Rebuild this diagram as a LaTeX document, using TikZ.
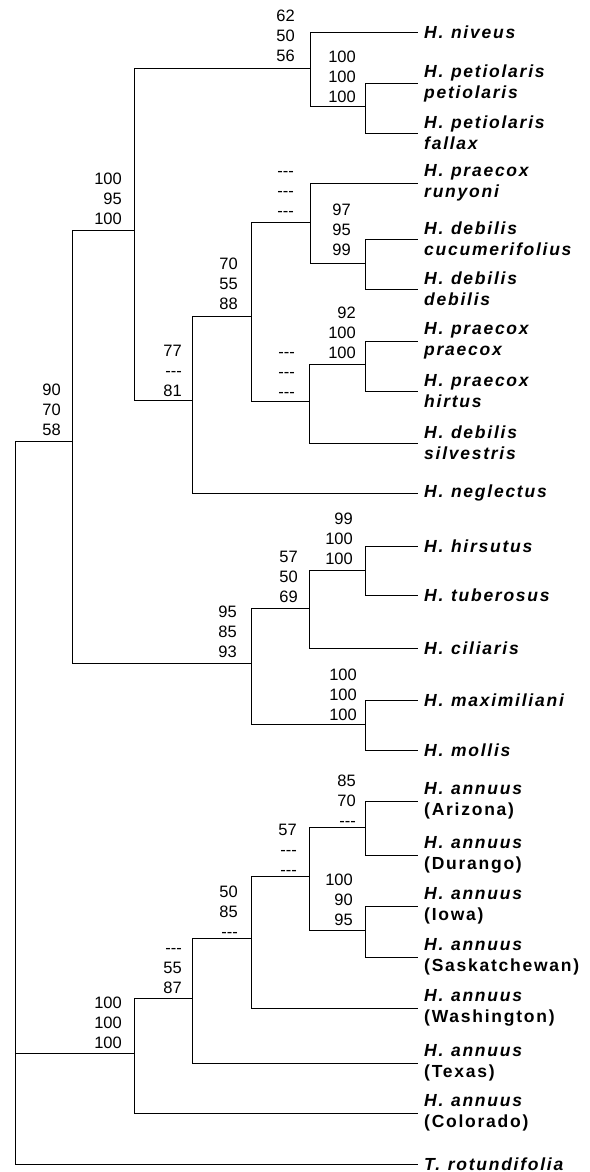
\documentclass[tikz,border=0pt]{standalone}
\usepackage{fontspec}
\setmainfont{Liberation Sans}
\newfontfamily\tipfont{Liberation Sans}[LetterSpace=10.0,WordSpace=1.15]
\newcommand{\dd}{\hbox{-}\hbox{-}\hbox{-}}
\newcommand{\bsv}[3]{#1\vphantom{0}\\#2\vphantom{0}\\#3\vphantom{0}}
\tikzset{
  br/.style={line width=0.9pt, black},
  supp/.style={anchor=east, align=right, inner sep=0pt, font=\fontsize{16.5}{20}\selectfont},
  tip/.style={anchor=west, align=left, inner xsep=6pt, inner ysep=0pt, font=\tipfont\fontsize{17.5}{21}\selectfont\bfseries\itshape},
}
\begin{document}
\begin{tikzpicture}[x=1pt,y=-1pt]
\useasboundingbox (0,0) rectangle (589,1172);
% tips
\node[tip] (niveus) at (418,32) {H. niveus};
\node[tip] (petpet) at (418,83) {H. petiolaris\\petiolaris};
\node[tip] (petfal) at (418,133) {H. petiolaris\\fallax};
\node[tip] (runy) at (418,183) {H. praecox\\runyoni};
\node[tip] (cucu) at (418,239) {H. debilis\\cucumerifolius};
\node[tip] (debdeb) at (418,289) {H. debilis\\debilis};
\node[tip] (prpr) at (418,341) {H. praecox\\praecox};
\node[tip] (prhi) at (418,391) {H. praecox\\hirtus};
\node[tip] (silv) at (418,443) {H. debilis\\silvestris};
\node[tip] (negl) at (418,493) {H. neglectus};
\node[tip] (hirs) at (418,546) {H. hirsutus};
\node[tip] (tube) at (418,595) {H. tuberosus};
\node[tip] (cili) at (418,648) {H. ciliaris};
\node[tip] (maxi) at (418,700) {H. maximiliani};
\node[tip] (moll) at (418,750) {H. mollis};
\node[tip] (ariz) at (418,801) {H. annuus\\{\upshape (Arizona)}};
\node[tip] (dura) at (418,855) {H. annuus\\{\upshape (Durango)}};
\node[tip] (iowa) at (418,906) {H. annuus\\{\upshape (Iowa)}};
\node[tip] (sask) at (418,957) {H. annuus\\{\upshape (Saskatchewan)}};
\node[tip] (wash) at (418,1008) {H. annuus\\{\upshape (Washington)}};
\node[tip] (texa) at (418,1063) {H. annuus\\{\upshape (Texas)}};
\node[tip] (colo) at (418,1113) {H. annuus\\{\upshape (Colorado)}};
\node[tip] (roti) at (418,1164) {T. rotundifolia};
% internal nodes
\coordinate (A) at (365,106);
\coordinate (B) at (310,68);
\coordinate (C) at (365,263);
\coordinate (D) at (310,222);
\coordinate (E) at (365,364);
\coordinate (F) at (309,401);
\coordinate (G) at (251,316);
\coordinate (H) at (192,400);
\coordinate (I) at (134,230);
\coordinate (J) at (365,570);
\coordinate (K) at (309,608);
\coordinate (L) at (365,724);
\coordinate (M) at (251,663);
\coordinate (N) at (72,441);
\coordinate (O) at (365,827);
\coordinate (P) at (365,930);
\coordinate (Q) at (309,876);
\coordinate (R) at (251,938);
\coordinate (S) at (192,998);
\coordinate (T) at (134,1053);
\coordinate (root) at (15,441);
% branches
\draw[br] (B) |- (niveus.west); \draw[br] (B) |- (A);
\draw[br] (A) |- (petpet.west); \draw[br] (A) |- (petfal.west);
\draw[br] (D) |- (runy.west); \draw[br] (D) |- (C);
\draw[br] (C) |- (cucu.west); \draw[br] (C) |- (debdeb.west);
\draw[br] (E) |- (prpr.west); \draw[br] (E) |- (prhi.west);
\draw[br] (F) |- (E); \draw[br] (F) |- (silv.west);
\draw[br] (G) |- (D); \draw[br] (G) |- (F);
\draw[br] (H) |- (G); \draw[br] (H) |- (negl.west);
\draw[br] (I) |- (B); \draw[br] (I) |- (H);
\draw[br] (J) |- (hirs.west); \draw[br] (J) |- (tube.west);
\draw[br] (K) |- (J); \draw[br] (K) |- (cili.west);
\draw[br] (L) |- (maxi.west); \draw[br] (L) |- (moll.west);
\draw[br] (M) |- (K); \draw[br] (M) |- (L);
\draw[br] (N) |- (I); \draw[br] (N) |- (M);
\draw[br] (O) |- (ariz.west); \draw[br] (O) |- (dura.west);
\draw[br] (P) |- (iowa.west); \draw[br] (P) |- (sask.west);
\draw[br] (Q) |- (O); \draw[br] (Q) |- (P);
\draw[br] (R) |- (Q); \draw[br] (R) |- (wash.west);
\draw[br] (S) |- (R); \draw[br] (S) |- (texa.west);
\draw[br] (T) |- (S); \draw[br] (T) |- (colo.west);
\draw[br] (root) |- (N); \draw[br] (root) |- (T); \draw[br] (root) |- (roti.west);
% support values
\node[supp] (lB) at (295,36) {\bsv{62}{50}{56}};
\node[supp] (lA) at (356,76.5) {\bsv{100}{100}{100}};
\node[supp] (lI) at (122,198.5) {\bsv{100}{95}{100}};
\node[supp] (lD) at (294,191) {\bsv{\dd}{\dd}{\dd}};
\node[supp] (lC) at (351,230) {\bsv{97}{95}{99}};
\node[supp] (lG) at (238,284) {\bsv{70}{55}{88}};
\node[supp] (lE) at (356,333) {\bsv{92}{100}{100}};
\node[supp] (lH) at (182,371) {\bsv{77}{\dd}{81}};
\node[supp] (lF) at (295,372) {\bsv{\dd}{\dd}{\dd}};
\node[supp] (lN) at (61,410) {\bsv{90}{70}{58}};
\node[supp] (lJ) at (353,539) {\bsv{99}{100}{100}};
\node[supp] (lK) at (298,577) {\bsv{57}{50}{69}};
\node[supp] (lM) at (237,632) {\bsv{95}{85}{93}};
\node[supp] (lL) at (357,695) {\bsv{100}{100}{100}};
\node[supp] (lO) at (356,801) {\bsv{85}{70}{\dd}};
\node[supp] (lQ) at (297,850) {\bsv{57}{\dd}{\dd}};
\node[supp] (lP) at (353,900) {\bsv{100}{90}{95}};
\node[supp] (lR) at (238,912) {\bsv{50}{85}{\dd}};
\node[supp] (lS) at (182,968) {\bsv{\dd}{55}{87}};
\node[supp] (lT) at (122,1023) {\bsv{100}{100}{100}};
\end{tikzpicture}
\end{document}
